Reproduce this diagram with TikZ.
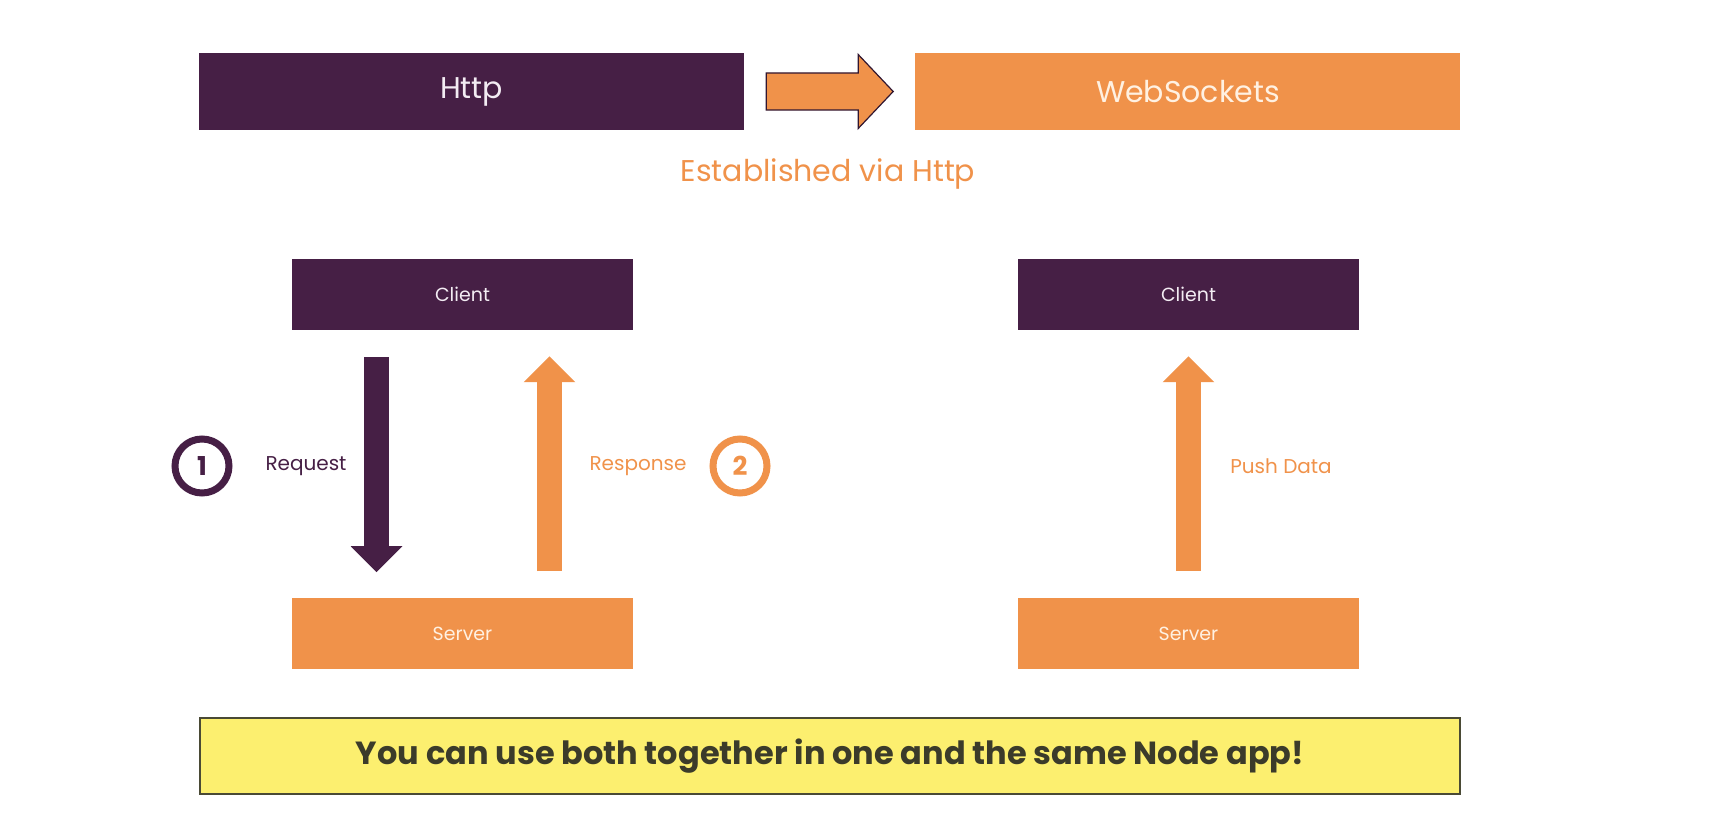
\documentclass[tikz,border=0pt]{standalone}
\usepackage{fontspec}
\setmainfont{Poppins}
\usetikzlibrary{arrows.meta,positioning}
\definecolor{plum}{HTML}{461F45}
\definecolor{tangerine}{HTML}{F0924A}
\definecolor{lemon}{HTML}{FCEF6F}
\definecolor{olive}{HTML}{4A4A35}
\definecolor{paleplum}{HTML}{F3ECF3}
\definecolor{palepeach}{HTML}{FFF1E2}

\begin{document}
\begin{tikzpicture}[
  x=1pt, y=-1pt,
  box/.style={rectangle, inner sep=0pt, minimum width=341pt, minimum height=71pt, font=\fontsize{19}{22}\selectfont},
  wide/.style={box, minimum width=545pt, minimum height=77pt, font=\fontsize{30}{34}\selectfont},
  clientbox/.style={box, fill=plum, text=paleplum},
  serverbox/.style={box, fill=tangerine, text=palepeach},
  lbl/.style={font=\fontsize{20}{24}\selectfont, inner sep=0pt},
  num/.style={circle, line width=7pt, minimum size=54pt, inner sep=0pt, font=\bfseries\fontsize{26}{30}\selectfont},
  flow/.style={line width=25pt, shorten <=27pt, shorten >=26pt, -{Triangle[width=50pt,length=26pt]}},
  upgrade/.style={fill=tangerine, draw=plum!70!black, line width=1.2pt, line join=miter}
]
\useasboundingbox (0,0) rectangle (1724,816);

% Http to WebSockets
\node[wide, fill=plum, text=paleplum] (http) at (471.5,91.5) {Http};
\node[wide, fill=tangerine, text=palepeach, right=171pt of http] (ws) {WebSockets};
\draw[upgrade] ([xshift=22pt]http.east) ++(0,-18.5) -- ++(92,0) -- ++(0,-18.5)
  -- ++(35,37) -- ++(-35,37) -- ++(0,-18.5) -- ++(-92,0) -- cycle;
\node[text=tangerine, font=\fontsize{30}{34}\selectfont] (via) at (828,174) {Established via Http};

% Request / Response
\node[clientbox] (client1) at (462.5,294.5) {Client};
\node[serverbox, below=268pt of client1] (server1) {Server};
\draw[flow, plum] ([xshift=-86pt]client1.south) -- ([xshift=-86pt]server1.north);
\draw[flow, tangerine] ([xshift=87pt]server1.north) -- ([xshift=87pt]client1.south);
\node[num, draw=plum, text=plum] (step1) at (202,466) {1};
\node[lbl, text=plum] (request) at (306,466) {Request};
\node[lbl, text=tangerine] (response) at (638,466) {Response};
\node[num, draw=tangerine, text=tangerine] (step2) at (740,466) {2};

% Push
\node[clientbox] (client2) at (1188.5,294.5) {Client};
\node[serverbox, below=268pt of client2] (server2) {Server};
\draw[flow, tangerine] (server2.north) -- (client2.south);
\node[lbl, text=tangerine] (push) at (1281,466) {Push Data};

% Note
\node[rectangle, fill=lemon, draw=olive, line width=1.5pt, minimum width=1260pt, minimum height=76pt,
  text=olive!80!black, font=\bfseries\fontsize{32}{36}\selectfont] (note) at (830,756)
  {You can use both together in one and the same Node app!};
\end{tikzpicture}
\end{document}
